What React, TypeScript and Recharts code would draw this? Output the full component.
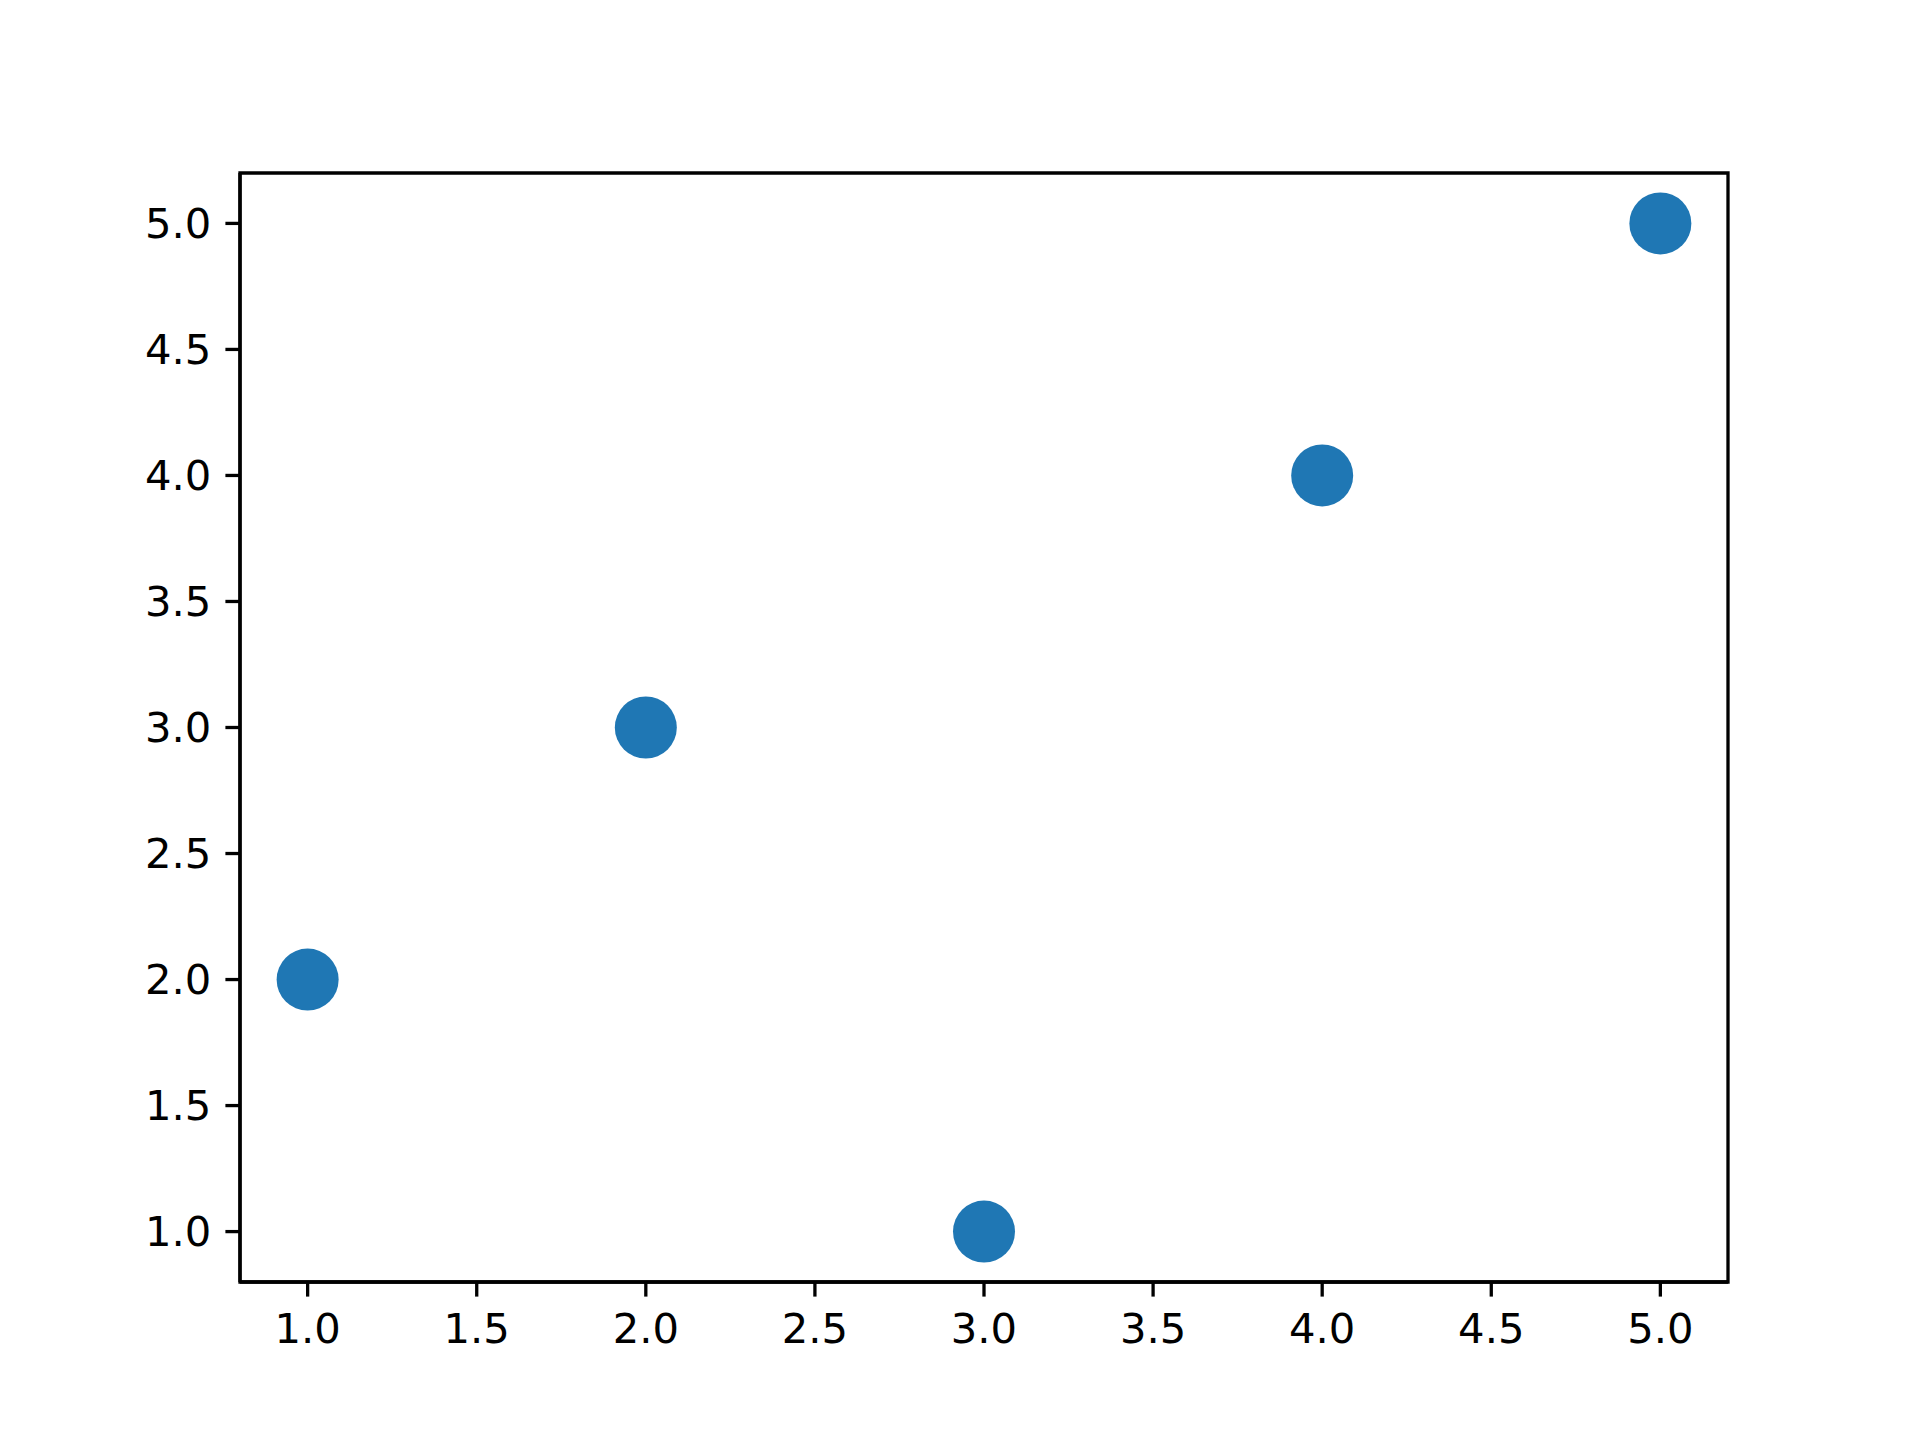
import React from 'react';
import {
  ScatterChart, Scatter, XAxis, YAxis, ReferenceArea,
} from 'recharts';

const xValues = [1, 2, 3, 4, 5];
const yValues = [2, 3, 1, 4, 5];
const xTicks = [1.0, 1.5, 2.0, 2.5, 3.0, 3.5, 4.0, 4.5, 5.0];
const yTicks = [1.0, 1.5, 2.0, 2.5, 3.0, 3.5, 4.0, 4.5, 5.0];

const points = xValues.map((x, i) => ({ x, y: yValues[i] }));

const FONT = 'DejaVu Sans, sans-serif';
const tickStyle = { fill: '#000', fontSize: 41.7, fontFamily: FONT };

const Dot = (props: any) => (
  <circle cx={props.cx} cy={props.cy} r={31} fill="#1f77b4" />
);

export default function App() {
  return (
    <div style={{ position: 'absolute', left: 0, top: 0, width: 1920, height: 1440, background: '#fff' }}>
      <ScatterChart
        width={1920}
        height={1440}
        margin={{ top: 173, right: 192, left: 120, bottom: 58 }}
      >
        <XAxis
          type="number"
          dataKey="x"
          domain={[0.8, 5.2]}
          ticks={xTicks}
          tickFormatter={(v: number) => v.toFixed(1)}
          height={100}
          tick={tickStyle}
          tickSize={14.6}
          tickMargin={17}
          axisLine={{ stroke: '#000', strokeWidth: 3.3 }}
          tickLine={{ stroke: '#000', strokeWidth: 3.3 }}
          allowDataOverflow
        />
        <YAxis
          type="number"
          dataKey="y"
          domain={[0.8, 5.2]}
          ticks={yTicks}
          tickFormatter={(v: number) => v.toFixed(1)}
          width={120}
          tick={tickStyle}
          tickSize={14.6}
          tickMargin={14}
          axisLine={{ stroke: '#000', strokeWidth: 3.3 }}
          tickLine={{ stroke: '#000', strokeWidth: 3.3 }}
          allowDataOverflow
        />
        <ReferenceArea
          x1={0.8}
          x2={5.2}
          y1={0.8}
          y2={5.2}
          fill="none"
          stroke="#000"
          strokeWidth={3.3}
          fillOpacity={0}
        />
        <Scatter data={points} shape={<Dot />} isAnimationActive={false} />
      </ScatterChart>
    </div>
  );
}
